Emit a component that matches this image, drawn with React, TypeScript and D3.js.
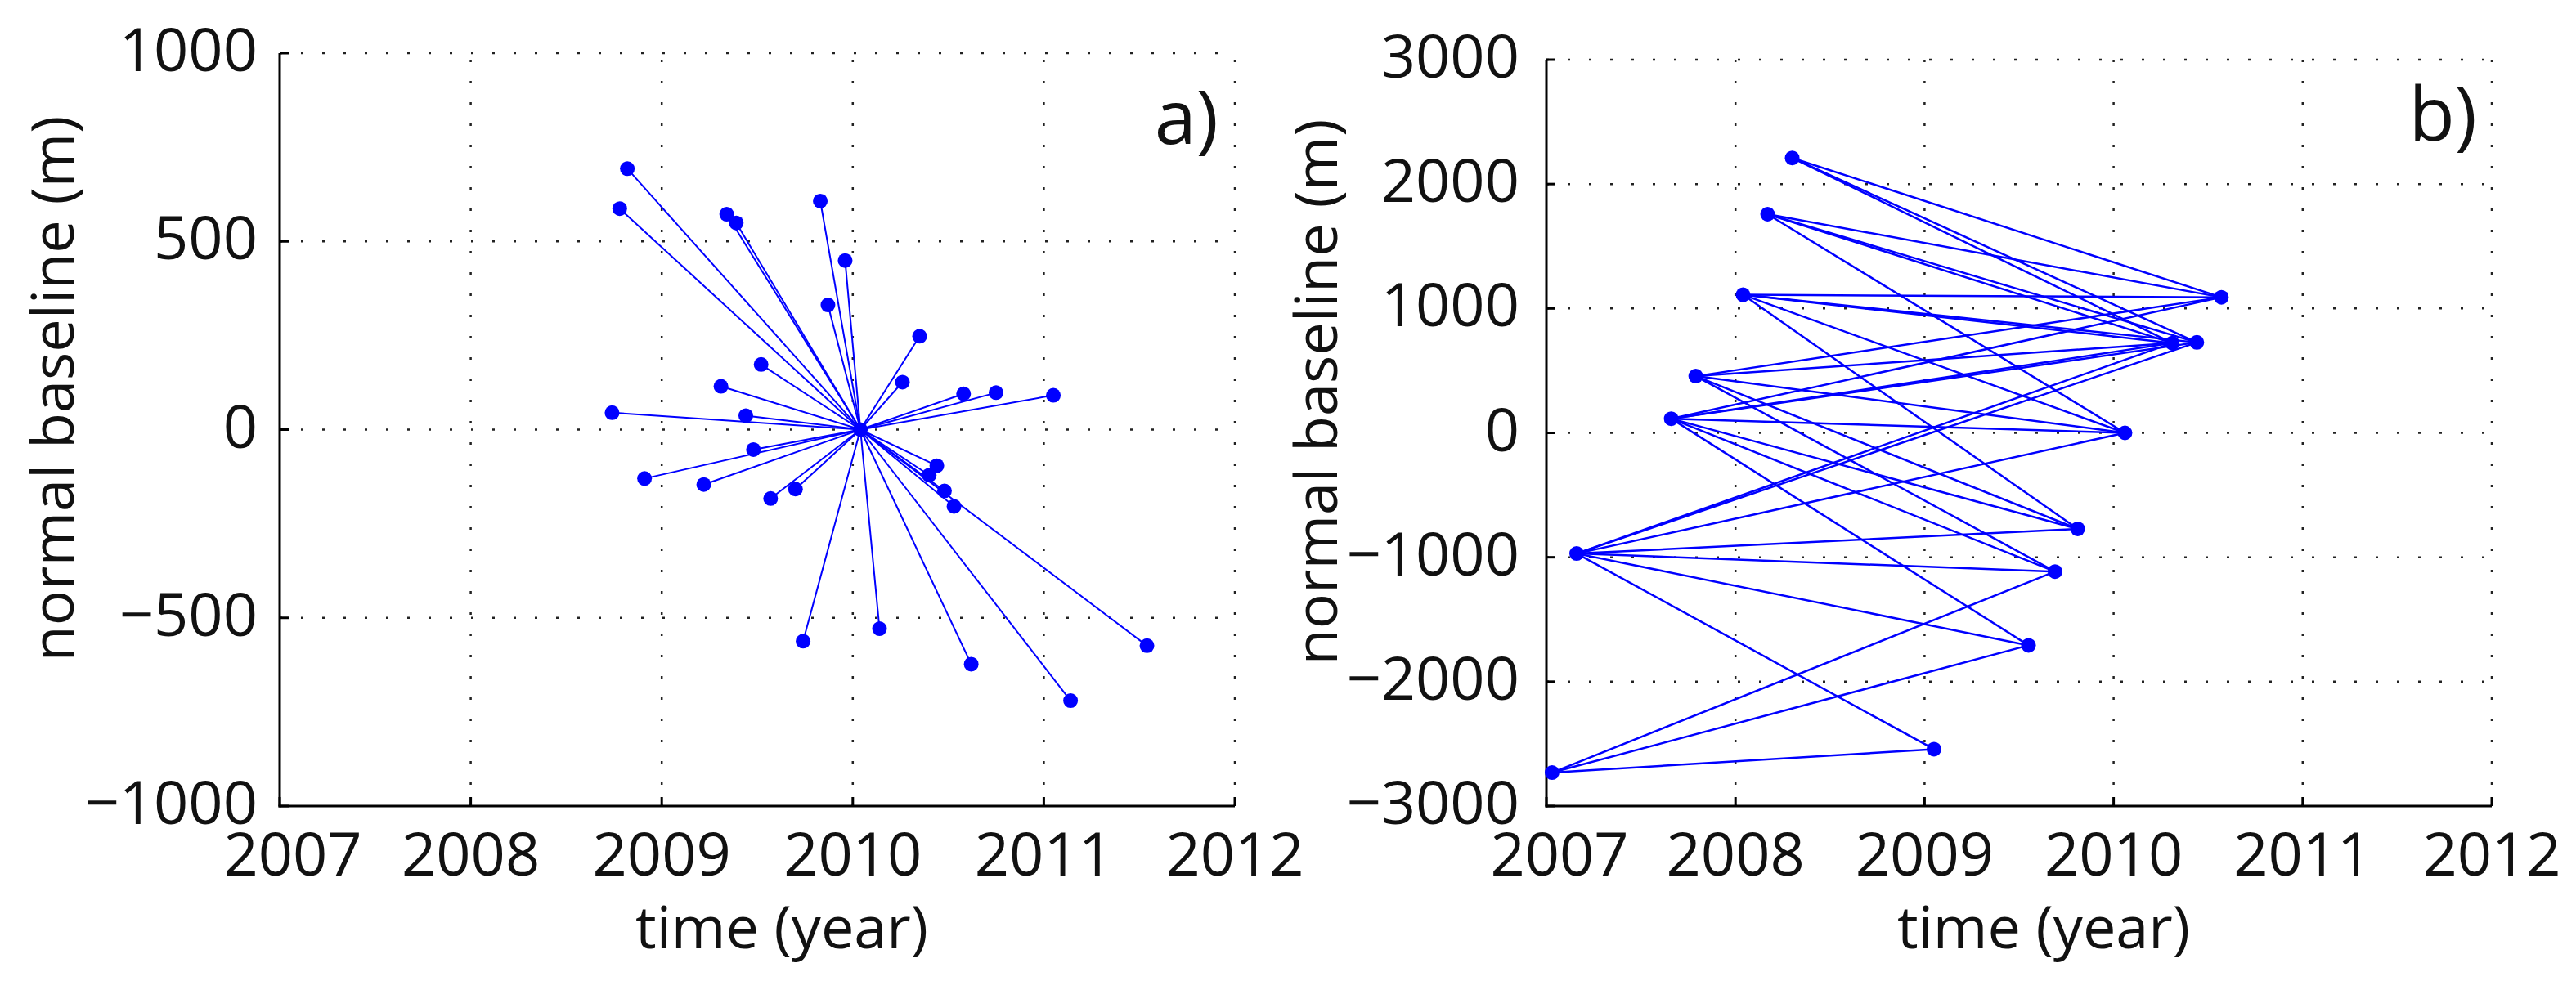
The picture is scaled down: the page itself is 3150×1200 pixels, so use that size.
import React from 'react';
import * as d3 from 'd3';

// ---------- data ----------
const yearTicks = [2007, 2008, 2009, 2010, 2011, 2012];
const baselineTicksA = [-1000, -500, 0, 500, 1000];
const baselineTicksB = [-3000, -2000, -1000, 0, 1000, 2000, 3000];

// panel a: star network around one master acquisition
const masterYearA = 2010.04;
const masterBaselineA = 0;
const slaveYearsA = [
  2008.82, 2008.78, 2009.34, 2009.39, 2009.83, 2009.96, 2009.87, 2010.35, 2009.52, 2010.26,
  2009.31, 2010.58, 2010.75, 2011.05, 2008.74, 2009.44, 2009.48, 2008.91, 2009.22, 2009.57,
  2009.70, 2010.44, 2010.40, 2010.48, 2010.53, 2009.74, 2010.14, 2010.62, 2011.54, 2011.14,
];
const slaveBaselinesA = [
  693, 587, 572, 549, 607, 449, 331, 248, 173, 126,
  115, 95, 98, 91, 45, 37, -53, -130, -146, -183,
  -158, -96, -121, -163, -204, -562, -529, -623, -574, -720,
];

// panel b: small-baseline network
const nodeNamesB = ['A', 'B', 'C', 'D', 'E', 'F', 'G', 'H', 'I', 'J', 'K', 'L', 'M1', 'M2', 'N'];
const nodeYearsB = [
  2008.30, 2008.17, 2008.04, 2007.79, 2007.66, 2007.16, 2007.03,
  2009.05, 2009.55, 2009.69, 2009.81, 2010.06, 2010.31, 2010.44, 2010.57,
];
const nodeBaselinesB = [
  2210, 1758, 1110, 456, 114, -970, -2731,
  -2543, -1708, -1115, -772, 0, 722, 727, 1090,
];
const edgeFromB = [
  'A', 'A', 'A',
  'B', 'B', 'B', 'B',
  'C', 'C', 'C', 'C', 'C',
  'D', 'D', 'D', 'D', 'D',
  'E', 'E', 'E', 'E', 'E', 'E', 'E',
  'F', 'F', 'F', 'F', 'F', 'F', 'F',
  'G', 'G', 'G',
];
const edgeToB = [
  'M1', 'M2', 'N',
  'M1', 'M2', 'N', 'L',
  'M1', 'M2', 'N', 'L', 'K',
  'M1', 'N', 'L', 'K', 'J',
  'M1', 'M2', 'N', 'L', 'K', 'J', 'I',
  'M1', 'M2', 'L', 'K', 'J', 'I', 'H',
  'H', 'I', 'J',
];

// ---------- style ----------
const FONT = "'Open Sans', 'DejaVu Sans', sans-serif";
const BLUE = '#0000ff';
const TICK_FS = 74;
const TITLE_FS = 72;

const fmt = (v: number) => (v < 0 ? '\u2212' + Math.abs(v) : String(v));

type PanelProps = {
  x: d3.ScaleLinear<number, number>;
  y: d3.ScaleLinear<number, number>;
  yTicks: number[];
  yLabelGap: number;
  yTitleX: number;
  tag: string;
  tagX: number;
  tagY: number;
  children?: React.ReactNode;
};

function Panel({ x, y, yTicks, yLabelGap, yTitleX, tag, tagX, tagY, children }: PanelProps) {
  const [x0, x1] = x.range();
  const [yb, yt] = y.range();
  const cx = (x0 + x1) / 2;
  const cy = (yb + yt) / 2;
  return (
    <g>
      {/* grid */}
      {yearTicks.slice(1).map((t) => (
        <line key={'gx' + t} x1={x(t)} x2={x(t)} y1={yb} y2={yt}
          stroke="#222" strokeWidth={2.5} strokeDasharray="3 23" />
      ))}
      {yTicks.slice(1).map((t) => (
        <line key={'gy' + t} x1={x0} x2={x1} y1={y(t)} y2={y(t)}
          stroke="#222" strokeWidth={2.5} strokeDasharray="3 23" />
      ))}
      {/* axes */}
      <line x1={x0} x2={x0} y1={yb + 1.5} y2={yt} stroke="#000" strokeWidth={3} />
      <line x1={x0 - 1.5} x2={x1} y1={yb} y2={yb} stroke="#000" strokeWidth={3} />
      {yTicks.map((t) => (
        <line key={'ty' + t} x1={x0} x2={x0 + 11} y1={y(t)} y2={y(t)} stroke="#000" strokeWidth={3} />
      ))}
      {yearTicks.map((t) => (
        <line key={'tx' + t} x1={x(t)} x2={x(t)} y1={yb} y2={yb - 11} stroke="#000" strokeWidth={3} />
      ))}
      {/* tick labels */}
      {yTicks.map((t) => (
        <text key={'ly' + t} x={x0 - yLabelGap} y={y(t) + 22} textAnchor="end"
          fontFamily={FONT} fontSize={TICK_FS} fill="#111">{fmt(t)}</text>
      ))}
      {yearTicks.map((t, i) => (
        <text key={'lx' + t} x={x(t) + (i === 0 ? 16 : 0)} y={yb + 85} textAnchor="middle"
          fontFamily={FONT} fontSize={TICK_FS} fill="#111">{String(t)}</text>
      ))}
      {/* titles */}
      <text x={cx + 30} y={yb + 174} textAnchor="middle" fontFamily={FONT} fontSize={TITLE_FS} fill="#111">
        time (year)
      </text>
      <text transform={`translate(${yTitleX},${cy - 50}) rotate(-90)`} textAnchor="middle"
        fontFamily={FONT} fontSize={TITLE_FS} fill="#111">normal baseline (m)</text>
      <text x={tagX} y={tagY} textAnchor="end" fontFamily={FONT} fontSize={92} fill="#111">{tag}</text>
      {children}
    </g>
  );
}

export default function App() {
  const xA = d3.scaleLinear().domain([2007, 2012]).range([342, 1510]);
  const yA = d3.scaleLinear().domain([-1000, 1000]).range([986, 65]);
  const xB = d3.scaleLinear().domain([2007, 2012]).range([1891, 3047]);
  const yB = d3.scaleLinear().domain([-3000, 3000]).range([986, 73]);

  const idx = (n: string) => nodeNamesB.indexOf(n);

  return (
    <svg width={3150} height={1200} viewBox="0 0 3150 1200"
      style={{ position: 'absolute', left: 0, top: 0, background: '#fff' }}>
      <rect x={0} y={0} width={3150} height={1200} fill="#fff" />
      <Panel x={xA} y={yA} yTicks={baselineTicksA} yLabelGap={27} yTitleX={90}
        tag="a)" tagX={1490} tagY={176}>
        {slaveYearsA.map((yr, i) => (
          <line key={'la' + i} x1={xA(masterYearA)} y1={yA(masterBaselineA)}
            x2={xA(yr)} y2={yA(slaveBaselinesA[i])} stroke={BLUE} strokeWidth={2} />
        ))}
        {slaveYearsA.map((yr, i) => (
          <circle key={'pa' + i} cx={xA(yr)} cy={yA(slaveBaselinesA[i])} r={9} fill={BLUE} />
        ))}
        <circle cx={xA(masterYearA)} cy={yA(masterBaselineA)} r={9} fill={BLUE} />
      </Panel>
      <Panel x={xB} y={yB} yTicks={baselineTicksB} yLabelGap={33} yTitleX={1635}
        tag="b)" tagX={3029} tagY={172}>
        {edgeFromB.map((f, i) => {
          const a = idx(f);
          const b = idx(edgeToB[i]);
          return (
            <line key={'lb' + i} x1={xB(nodeYearsB[a])} y1={yB(nodeBaselinesB[a])}
              x2={xB(nodeYearsB[b])} y2={yB(nodeBaselinesB[b])} stroke={BLUE} strokeWidth={2.5} />
          );
        })}
        {nodeYearsB.map((yr, i) => (
          <circle key={'pb' + i} cx={xB(yr)} cy={yB(nodeBaselinesB[i])} r={9} fill={BLUE} />
        ))}
      </Panel>
    </svg>
  );
}
